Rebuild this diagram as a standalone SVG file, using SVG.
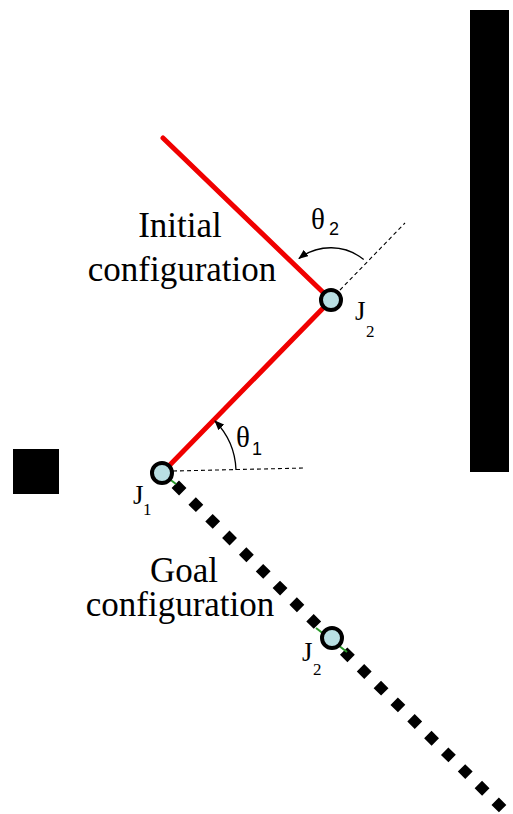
<svg xmlns="http://www.w3.org/2000/svg" width="513" height="814" viewBox="0 0 513 814">
<style>
.obst{fill:#000}
.link{stroke:#f00000;stroke-width:5;stroke-linecap:round;fill:none}
.goal{stroke:#000;stroke-width:10.5;stroke-dasharray:10.5 13.2;fill:none}
.dash{stroke:#000;stroke-width:1.1;stroke-dasharray:4 3;fill:none}
.arc{stroke:#000;stroke-width:1.3;fill:none;marker-end:url(#ah)}
.joint{fill:#b9dfe3;stroke:#000;stroke-width:4}
text{font-family:'Liberation Serif','Times New Roman',serif;fill:#000}
.lbl{font-size:35px}
.j{font-size:27px}
.sub{font-size:17px}
.th{font-size:29px}
.thsub{font-family:'Liberation Sans',Arial,sans-serif;font-size:18px}
</style>
<defs>
<marker id="ah" markerWidth="10" markerHeight="8" refX="9" refY="4" orient="auto" markerUnits="userSpaceOnUse">
<path d="M0,0 L10,4 L0,8 Z" fill="#000"/>
</marker>
</defs>
<rect width="513" height="814" fill="#fff"/>
<g id="obstacle-wall"><rect class="obst" x="470" y="10" width="39" height="462"/></g>
<g id="obstacle-block"><rect class="obst" x="13" y="449" width="46" height="45"/></g>
<g id="connectors">
<line class="goal" x1="175.3" y1="484.3" x2="502.7" y2="808.7"/>
<line x1="168" y1="478" x2="176" y2="484" stroke="#2a9a2a" stroke-width="2"/>
<line x1="316" y1="628" x2="347" y2="652" stroke="#2a9a2a" stroke-width="2"/>
<line class="link" x1="162" y1="473" x2="331" y2="300"/>
<line class="link" x1="331" y1="300" x2="163" y2="138"/>
<line class="dash" x1="173" y1="471" x2="305" y2="468"/>
<line class="dash" x1="340" y1="290" x2="405" y2="223"/>
<path class="arc" d="M236,470 A74,74 0 0 0 215,421"/>
<path class="arc" d="M363.7,259.6 A52,52 0 0 0 299,258.5"/>
</g>
<g id="J1"><circle class="joint" cx="162" cy="473" r="10"/>
<text class="j" x="133" y="504">J<tspan class="sub" x="143" y="515">1</tspan></text></g>
<g id="J2-initial"><circle class="joint" cx="331" cy="300" r="10"/>
<text class="j" x="355" y="320">J<tspan class="sub" x="366" y="337">2</tspan></text></g>
<g id="J2-goal"><circle class="joint" cx="332" cy="638" r="10"/>
<text class="j" x="302" y="661">J<tspan class="sub" x="313" y="675">2</tspan></text></g>
<g id="theta1"><text class="th" x="236" y="447">θ<tspan class="thsub" x="252" y="455">1</tspan></text></g>
<g id="theta2"><text class="th" x="311" y="229">θ<tspan class="thsub" x="329" y="235">2</tspan></text></g>
<g id="label-initial"><text class="lbl" text-anchor="middle"><tspan x="180" y="237">Initial</tspan><tspan x="182" y="281">configuration</tspan></text></g>
<g id="label-goal"><text class="lbl" text-anchor="middle"><tspan x="184" y="582">Goal</tspan><tspan x="180" y="616">configuration</tspan></text></g>
</svg>
